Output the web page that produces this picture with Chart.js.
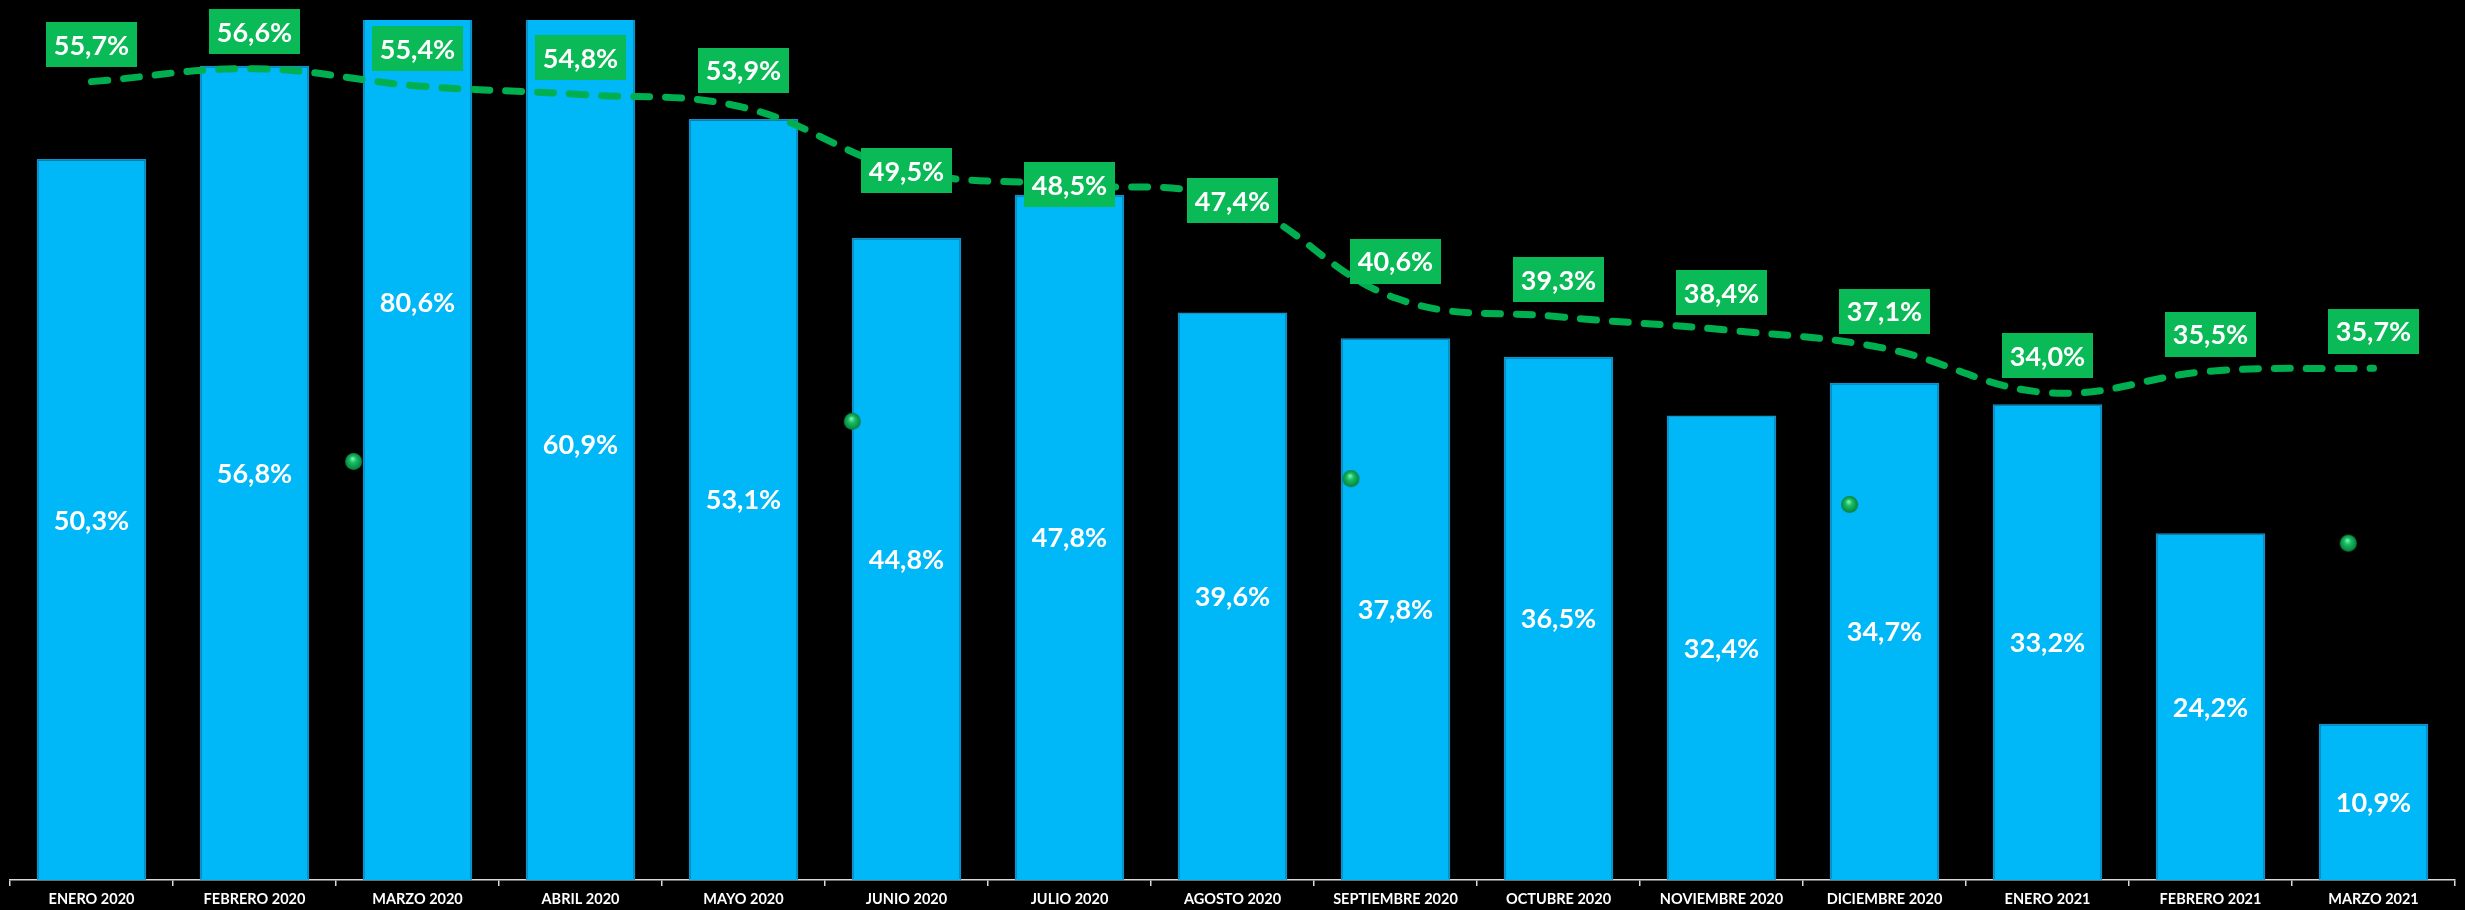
<!DOCTYPE html>
<html>
<head>
<meta charset="utf-8">
<script src="https://cdn.jsdelivr.net/npm/chart.js@4/dist/chart.umd.min.js"></script>
<style>
  html, body { margin: 0; padding: 0; background: #000; }
  #wrap { width: 2465px; height: 910px; background: #000; }
  canvas { display: block; }
</style>
</head>
<body>
<div id="wrap"><canvas id="c" width="2465" height="910"></canvas></div>
<script>
// ---------- DATA ----------
const categories = [
  'ENERO 2020', 'FEBRERO 2020', 'MARZO 2020', 'ABRIL 2020', 'MAYO 2020',
  'JUNIO 2020', 'JULIO 2020', 'AGOSTO 2020', 'SEPTIEMBRE 2020', 'OCTUBRE 2020',
  'NOVIEMBRE 2020', 'DICIEMBRE 2020', 'ENERO 2021', 'FEBRERO 2021', 'MARZO 2021'
];
const barValues = [50.3, 56.8, 80.6, 60.9, 53.1, 44.8, 47.8, 39.6, 37.8, 36.5, 32.4, 34.7, 33.2, 24.2, 10.9];
const lineValues = [55.7, 56.6, 55.4, 54.8, 53.9, 49.5, 48.5, 47.4, 40.6, 39.3, 38.4, 37.1, 34.0, 35.5, 35.7];
const quarterIndex = [1, 2, 3, 4, 5];
const quarterValues = [29.2, 32.0, 28.0, 26.2, 23.5];

// ---------- STYLE ----------
const lineLabelPlacement = ['above','above','above','above','above','center','center','center',
  'above','above','above','above','above','above','above'];
const FONT = 'Lato, "Open Sans", sans-serif';
const fmt = v => v.toFixed(1).replace('.', ',') + '%';

// sphere-like marker
function makeSphere(r) {
  const s = r * 2 + 2;
  const cv = document.createElement('canvas');
  cv.width = s; cv.height = s;
  const g = cv.getContext('2d');
  const cx = s / 2, cy = s / 2;
  const grad = g.createRadialGradient(cx - 1, cy - 3, 0.5, cx, cy, r);
  grad.addColorStop(0, '#7df5b4');
  grad.addColorStop(0.35, '#19c065');
  grad.addColorStop(1, '#06803c');
  g.fillStyle = grad;
  g.beginPath(); g.arc(cx, cy, r, 0, Math.PI * 2); g.fill();
  return cv;
}

const labelPlugin = {
  id: 'valueLabels',
  afterDatasetsDraw(chart) {
    const ctx = chart.ctx;
    const y = chart.scales.y;
    ctx.save();
    ctx.font = 'bold 27px ' + FONT;
    ctx.textAlign = 'center';
    ctx.textBaseline = 'alphabetic';
    // bar labels: centred on the full (unclipped) bar
    const barMeta = chart.getDatasetMeta(0);
    barMeta.data.forEach((el, i) => {
      const v = barValues[i];
      const yc = (y.getPixelForValue(v) + y.getPixelForValue(0)) / 2;
      ctx.fillStyle = '#ffffff';
      ctx.fillText(fmt(v), el.x, yc + 10);
    });
    // line labels in green boxes
    const lineMeta = chart.getDatasetMeta(1);
    lineMeta.data.forEach((el, i) => {
      const cy = lineLabelPlacement[i] === 'center' ? el.y : el.y - 37;
      ctx.fillStyle = '#0aba56';
      ctx.fillRect(Math.round(el.x - 45.5), Math.round(cy - 22.5), 91, 45);
      ctx.fillStyle = '#ffffff';
      ctx.fillText(fmt(lineValues[i]), el.x, cy + 10);
    });
    ctx.restore();
  }
};

const chart = new Chart(document.getElementById('c'), {
  data: {
    labels: categories,
    datasets: [
      {
        type: 'bar',
        data: barValues,
        backgroundColor: '#00b7f7',
        borderColor: '#1a8fc4',
        borderWidth: 1.5,
        grouped: false,
        barPercentage: 0.672,
        categoryPercentage: 1,
        order: 3,
        xAxisID: 'x',
        yAxisID: 'y'
      },
      {
        type: 'line',
        data: lineValues,
        borderColor: '#00b050',
        borderWidth: 7,
        borderDash: [16, 16],
        borderCapStyle: 'round',
        tension: 0.4,
        pointRadius: 0,
        fill: false,
        order: 1,
        xAxisID: 'x',
        yAxisID: 'y'
      },
      {
        type: 'scatter',
        data: quarterIndex.map((q, i) => ({ x: q, y: quarterValues[i] })),
        pointStyle: makeSphere(8.5),
        pointRadius: 9,
        showLine: false,
        order: 2,
        xAxisID: 'x2',
        yAxisID: 'y'
      }
    ]
  },
  options: {
    responsive: false,
    devicePixelRatio: 1,
    animation: false,
    layout: { padding: { left: 8, right: 3, top: 20, bottom: 0 } },
    plugins: { legend: { display: false }, tooltip: { enabled: false } },
    scales: {
      x: {
        type: 'category',
        offset: true,
        grid: {
          display: true,
          drawOnChartArea: false,
          drawTicks: true,
          tickLength: 6,
          color: '#d9d9d9',
          lineWidth: 1.5,
          offset: true
        },
        border: { display: true, color: '#d9d9d9', width: 1.5 },
        ticks: {
          color: '#ffffff',
          font: { family: FONT, size: 14.5, weight: 'bold' },
          maxRotation: 0,
          autoSkip: false,
          padding: 5
        },
        afterFit(scale) { scale.height = 30; }
      },
      x2: {
        type: 'linear',
        display: false,
        offset: false,
        min: 0.311,
        max: 5.214
      },
      y: {
        display: false,
        min: 0,
        max: 60
      }
    }
  },
  plugins: [labelPlugin]
});
</script>
</body>
</html>
